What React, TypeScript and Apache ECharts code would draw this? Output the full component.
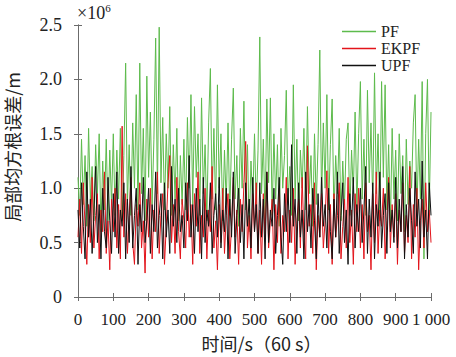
import React, { useEffect, useRef } from "react";
import * as echarts from "echarts";

// Values in units of 10^6 m, sampled every 5 time steps (0..1000)
const PF = [
  1.10, 0.75, 1.45, 0.85, 1.30, 0.65, 1.55, 0.90, 1.20, 0.70, 1.40, 0.95, 1.50, 0.60, 1.25, 0.80, 1.45, 0.70, 1.35, 0.85,
  1.50, 0.75, 1.35, 0.90, 1.55, 0.70, 1.30, 2.15, 0.85, 1.40, 0.75, 1.60, 1.00, 1.86, 0.80, 2.15, 0.95, 1.55, 0.70, 2.03,
  1.10, 1.70, 0.85, 1.45, 2.38, 0.95, 2.48, 1.05, 1.65, 0.80, 1.50, 1.00, 1.75, 0.75, 1.40, 0.90, 1.55, 0.70, 1.30, 0.85,
  1.45, 0.80, 1.65, 1.00, 1.86, 0.85, 1.75, 1.10, 1.50, 0.75, 1.83, 0.95, 1.40, 0.70, 1.60, 2.10, 0.90, 1.55, 0.80, 1.95,
  1.00, 1.50, 0.70, 1.35, 0.85, 1.60, 0.75, 1.45, 1.92, 0.90, 1.30, 0.65, 1.55, 1.00, 1.80, 0.80, 1.40, 0.60, 1.25, 0.85,
  1.50, 0.80, 1.35, 2.39, 0.95, 1.45, 0.70, 1.82, 1.05, 1.83, 0.75, 1.50, 0.90, 1.40, 0.65, 1.55, 1.00, 1.30, 1.90, 0.85,
  1.20, 0.75, 1.95, 0.90, 1.45, 0.70, 1.35, 1.00, 1.55, 0.80, 1.75, 0.95, 1.30, 0.65, 1.50, 0.85, 1.40, 2.27, 0.90, 1.60,
  1.00, 1.86, 0.80, 1.40, 1.82, 0.75, 1.30, 0.95, 1.55, 0.70, 1.25, 0.85, 1.45, 1.60, 0.75, 1.35, 0.95, 1.70, 0.80, 1.50,
  1.98, 0.90, 1.45, 0.75, 1.90, 1.05, 1.60, 0.85, 2.06, 0.95, 1.50, 0.70, 1.98, 1.10, 1.95, 0.80, 1.40, 0.65, 1.55, 0.90,
  1.35, 0.70, 1.50, 0.95, 1.30, 0.60, 1.45, 0.85, 1.25, 1.00, 1.60, 1.86, 0.75, 1.45, 0.90, 1.98, 0.35, 1.50, 2.00, 0.80, 1.70,
];

const EKPF = [
  0.55, 0.90, 0.40, 1.05, 0.65, 0.30, 0.85, 0.50, 1.10, 0.45, 0.75, 0.95, 0.35, 0.80, 0.60, 1.15, 0.40, 0.70, 0.25, 0.90,
  0.60, 1.00, 0.45, 0.85, 0.35, 1.57, 0.55, 0.95, 0.40, 0.75, 1.10, 0.50, 0.30, 0.85, 0.65, 1.05, 0.45, 0.70, 0.22, 0.90,
  0.55, 1.00, 0.35, 0.80, 0.60, 1.15, 0.40, 0.75, 0.95, 0.30, 0.65, 1.05, 1.30, 0.50, 0.85, 0.40, 1.10, 0.60, 0.35, 0.90,
  0.70, 0.45, 1.05, 0.55, 0.85, 0.30, 0.95, 0.65, 1.15, 0.40, 0.75, 0.55, 1.00, 0.35, 0.80, 0.60, 1.20, 0.45, 0.70, 0.25,
  0.85, 0.50, 1.00, 0.40, 0.75, 0.95, 0.35, 0.65, 1.10, 0.55, 0.80, 0.30, 0.90, 0.60, 1.05, 1.43, 0.45, 0.75, 0.35, 0.95,
  0.60, 1.05, 0.40, 0.80, 0.30, 0.95, 0.55, 1.15, 0.45, 0.70, 0.90, 0.25, 0.85, 0.50, 1.00, 0.40, 0.75, 0.60, 1.10, 0.35,
  0.80, 0.50, 1.00, 0.30, 0.70, 0.90, 0.45, 1.10, 0.55, 0.35, 1.39, 0.65, 0.85, 0.40, 1.05, 0.25, 0.75, 0.55, 0.95, 0.45,
  0.70, 1.16, 0.40, 0.85, 0.30, 0.95, 0.55, 0.75, 1.05, 0.35, 0.65, 0.90, 0.45, 1.10, 0.50, 0.80, 0.30, 0.95, 0.60, 1.00,
  0.45, 0.85, 0.35, 1.05, 0.60, 0.75, 0.25, 0.95, 0.50, 1.15, 0.40, 0.80, 0.65, 1.00, 0.35, 0.70, 1.10, 0.45, 0.85, 0.55,
  0.95, 0.30, 0.80, 0.60, 1.05, 0.40, 0.75, 0.50, 1.20, 0.35, 0.85, 0.55, 1.00, 0.25, 0.70, 0.90, 0.45, 1.05, 0.60, 0.80, 0.50,
];

const UPF = [
  0.80, 0.45, 1.05, 0.65, 0.35, 1.15, 0.55, 0.90, 0.40, 0.75, 1.20, 0.50, 0.85, 0.35, 1.00, 0.60, 0.45, 1.10, 0.70, 0.40,
  0.95, 0.55, 1.15, 0.40, 0.80, 0.65, 1.05, 0.35, 0.90, 0.50, 1.20, 0.45, 0.75, 1.00, 0.30, 0.85, 0.60, 1.10, 0.50, 0.70,
  1.00, 0.40, 0.85, 0.60, 1.15, 0.45, 0.75, 0.95, 0.35, 1.05, 0.55, 0.80, 0.40, 1.20, 0.65, 0.90, 0.50, 1.00, 0.60, 0.75,
  0.45, 1.05, 0.70, 1.30, 0.55, 0.85, 0.40, 1.00, 0.60, 0.90, 0.35, 1.10, 0.50, 0.80, 0.65, 1.05, 0.40, 0.75, 0.95, 0.55,
  1.10, 0.45, 0.80, 0.60, 1.00, 0.35, 0.90, 0.55, 1.15, 0.40, 0.75, 1.00, 0.50, 0.85, 0.35, 1.05, 0.65, 0.90, 0.45, 1.10,
  0.60, 0.85, 0.40, 1.05, 0.55, 0.90, 0.35, 1.15, 0.50, 0.80, 0.65, 1.00, 0.40, 0.75, 1.10, 0.55, 0.30, 0.95, 0.60, 1.00,
  0.50, 1.40, 0.65, 0.90, 0.40, 1.05, 0.55, 0.80, 0.35, 1.15, 0.60, 0.85, 0.45, 1.00, 0.70, 0.35, 0.95, 0.55, 1.10, 0.65,
  0.85, 0.45, 1.00, 0.60, 0.35, 0.90, 0.55, 1.15, 0.40, 0.75, 1.05, 0.50, 0.80, 0.30, 0.95, 0.65, 1.10, 0.45, 0.85, 0.60,
  1.00, 0.50, 0.80, 1.20, 0.40, 0.90, 0.55, 1.05, 0.35, 0.85, 0.65, 1.15, 0.45, 0.75, 0.95, 0.40, 1.05, 0.60, 0.80, 0.50,
  1.10, 0.45, 0.90, 0.60, 1.20, 0.35, 0.85, 0.55, 1.00, 0.70, 0.40, 1.15, 0.65, 0.90, 0.45, 1.25, 0.55, 0.80, 0.35, 1.05, 0.75,
];

const timeSteps = PF.map((_, i) => i * 5);
const seriesNames = ["PF", "EKPF", "UPF"];
const seriesColors = ["#5DBB4C", "#E3141B", "#111111"];
const xTickLabels: Record<number, string> = { 1000: "1 000" };
const yAxisTitle = "局部均方根误差/m";
const xAxisTitle = "时间/s（60 s）";

const SERIF = "'Liberation Serif', 'DejaVu Serif', serif";
const CJK = "'Noto Sans CJK SC', 'Liberation Serif', serif";

export default function App() {
  const ref = useRef<HTMLDivElement>(null);
  useEffect(() => {
    if (!ref.current) return;
    const chart = echarts.init(ref.current, undefined, { renderer: "svg" });
    const seriesData = [PF, EKPF, UPF];
    const axisLine = { show: true, lineStyle: { color: "#6b6b6b", width: 1 } };
    const axisTick = { show: true, inside: true, length: 4, lineStyle: { color: "#6b6b6b" } };
    chart.setOption({
      animation: false,
      backgroundColor: "#ffffff",
      grid: { left: 78, right: 25, top: 25, bottom: 58, containLabel: false },
      legend: {
        orient: "vertical",
        left: 342,
        top: 23,
        padding: 0,
        icon: "rect",
        itemWidth: 34,
        itemHeight: 1.5,
        itemGap: 0,
        data: seriesNames,
        textStyle: { fontFamily: SERIF, fontSize: 16, color: "#222", lineHeight: 17 },
      },
      xAxis: [
        {
          type: "value",
          min: 0,
          max: 1000,
          interval: 100,
          position: "bottom",
          axisLine,
          axisTick,
          splitLine: { show: false },
          axisLabel: {
            margin: 14,
            fontFamily: SERIF,
            fontSize: 17,
            color: "#222",
            formatter: (v: number) => xTickLabels[v] ?? String(v),
          },
          name: xAxisTitle,
          nameLocation: "middle",
          nameGap: 37,
          nameTextStyle: { fontFamily: CJK, fontSize: 18, color: "#222", padding: [0, 0, 0, 14] },
        },
        {
          type: "value",
          min: 0,
          max: 1000,
          interval: 100,
          position: "top",
          axisLine,
          axisTick,
          axisLabel: { show: false },
          splitLine: { show: false },
        },
      ],
      yAxis: [
        {
          type: "value",
          min: 0,
          max: 2.5,
          interval: 0.5,
          position: "left",
          axisLine,
          axisTick,
          splitLine: { show: false },
          axisLabel: {
            margin: 16,
            fontFamily: SERIF,
            fontSize: 18,
            color: "#222",
            formatter: (v: number) => (v === 0 ? "0" : v.toFixed(1)),
          },
        },
        {
          type: "value",
          min: 0,
          max: 2.5,
          interval: 0.5,
          position: "right",
          axisLine,
          axisTick,
          axisLabel: { show: false },
          splitLine: { show: false },
        },
      ],
      graphic: [
        {
          type: "text",
          left: 77,
          top: 2,
          style: {
            text: "×10{sup|6}",
            fontFamily: SERIF,
            fontSize: 18,
            fill: "#222",
            rich: { sup: { fontFamily: SERIF, fontSize: 11, fill: "#222", verticalAlign: "top", padding: [0, 0, 10, 0] } },
          },
        },
        {
          type: "text",
          x: 12,
          y: 147,
          rotation: Math.PI / 2,
          style: {
            text: yAxisTitle,
            fontFamily: CJK,
            fontSize: 18,
            fill: "#222",
            align: "center",
            verticalAlign: "middle",
          },
        },
      ],
      series: seriesNames.map((name, k) => ({
        name,
        type: "line",
        symbol: "none",
        showSymbol: false,
        data: seriesData[k].map((v, i) => [timeSteps[i], v]),
        lineStyle: { color: seriesColors[k], width: 1 },
        itemStyle: { color: seriesColors[k] },
        z: 2 + k,
      })),
    });
    return () => chart.dispose();
  }, []);
  return <div ref={ref} style={{ position: "fixed", left: 0, top: 0, width: 456, height: 357 }} />;
}
